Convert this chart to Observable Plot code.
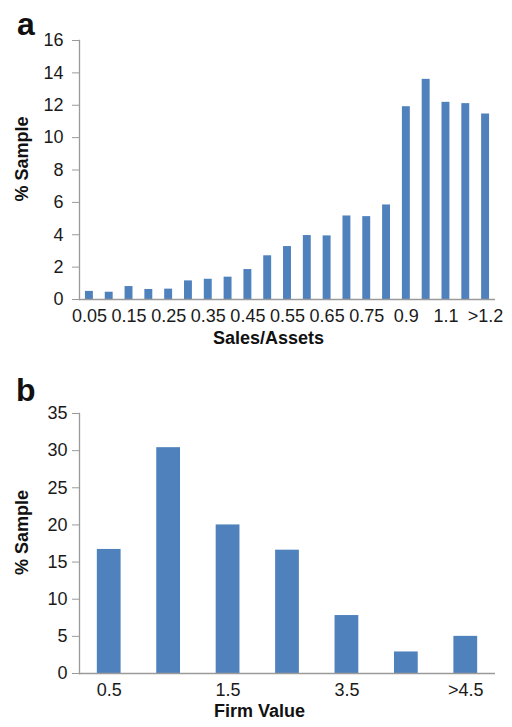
<!DOCTYPE html>
<html>
<head>
<meta charset="utf-8">
<script src="https://cdn.jsdelivr.net/npm/d3@7"></script>
<script src="https://cdn.jsdelivr.net/npm/@observablehq/plot@0.6"></script>
<style>
  html, body { margin: 0; padding: 0; background: #fff; }
  #wrap { position: relative; width: 512px; height: 727px; font-family: "Liberation Sans", Arial, sans-serif; }
  .panel { position: absolute; left: 0; z-index: 1; }
  .letter { position: absolute; font-weight: bold; font-size: 32px; color: #111; line-height: 1; z-index: 2; }
</style>
</head>
<body>
<div id="wrap">
  <div id="pa" class="panel" style="top:0px;"></div>
  <div id="pb" class="panel" style="top:360px;"></div>
  <div class="letter" style="left:17px; top:8px;">a</div>
  <div class="letter" style="left:16px; top:374px;">b</div>
</div>
<script>
// Panel a: Sales/Assets
const salesCats = ["0.05","0.1","0.15","0.2","0.25","0.3","0.35","0.4","0.45","0.5","0.55","0.6","0.65","0.7","0.75","0.8","0.9","1","1.1","1.2",">1.2"];
const salesVals = [0.5,0.45,0.8,0.62,0.64,1.15,1.25,1.38,1.85,2.7,3.27,3.95,3.93,5.16,5.12,5.84,11.91,13.6,12.18,12.1,11.46];
const salesTickLabels = ["0.05","0.15","0.25","0.35","0.45","0.55","0.65","0.75","0.9","1.1",">1.2"];
const salesYTicks = [0,2,4,6,8,10,12,14,16];

// Panel b: Firm Value
const fvCats = ["0.5","1","1.5","2.5","3.5","4.5",">4.5"];
const fvVals = [16.7,30.4,20.0,16.6,7.8,2.9,5.0];
const fvTickLabels = ["0.5","1.5","3.5",">4.5"];
const fvYTicks = [0,5,10,15,20,25,30,35];

const BLUE = "#4f81bd";
const AXIS = "#9a9a9a";
const FONT = "'Liberation Sans', Arial, sans-serif";

function panel({cats, vals, tickLabels, yTicks, yMax, height, marginTop, marginBottom, tickPad, xTitle, xTitleDx, xTitleDy, yTitleDy}) {
  const data = cats.map((c, i) => ({cat: c, v: vals[i]}));
  return Plot.plot({
    width: 512,
    height,
    marginLeft: 79,
    marginRight: 17,
    marginTop,
    marginBottom,
    style: {fontFamily: FONT, fontSize: "18px", color: "#1a1a1a", background: "transparent", overflow: "visible"},
    x: {domain: cats, paddingInner: 0.6, paddingOuter: 0.3, round: false, label: null},
    y: {domain: [0, yMax], nice: false, label: null},
    marks: [
      Plot.barY(data, {x: "cat", y: "v", fill: BLUE, inset: 0}),
      Plot.frame({anchor: "left", stroke: AXIS, strokeWidth: 1.3}),
      Plot.ruleY([0], {stroke: AXIS, strokeWidth: 1.3}),
      Plot.axisY({ticks: yTicks, tickSize: 7, tickPadding: tickPad, stroke: AXIS, label: null, fontSize: 18}),
      Plot.axisX({ticks: tickLabels, tickSize: 0, tickPadding: 10, label: null, fontSize: 18}),
      Plot.text([xTitle], {frameAnchor: "bottom", textAnchor: "middle", dx: xTitleDx, dy: xTitleDy, fontWeight: "bold", fontSize: 18, fill: "#111"}),
      Plot.text(["% Sample"], {frameAnchor: "left", textAnchor: "middle", dx: -57, dy: yTitleDy, rotate: -90, fontWeight: "bold", fontSize: 18, fill: "#111"})
    ]
  });
}

document.getElementById("pa").appendChild(panel({
  cats: salesCats, vals: salesVals, tickLabels: salesTickLabels, yTicks: salesYTicks, yMax: 16,
  height: 360, marginTop: 40, marginBottom: 61, tickPad: 9,
  xTitle: "Sales/Assets", xTitleDx: -19, xTitleDy: 44, yTitleDy: -11
}));
document.getElementById("pb").appendChild(panel({
  cats: fvCats, vals: fvVals, tickLabels: fvTickLabels, yTicks: fvYTicks, yMax: 35,
  height: 367, marginTop: 53, marginBottom: 54, tickPad: 5,
  xTitle: "Firm Value", xTitleDx: -28, xTitleDy: 43, yTitleDy: -11
}));
</script>
</body>
</html>
